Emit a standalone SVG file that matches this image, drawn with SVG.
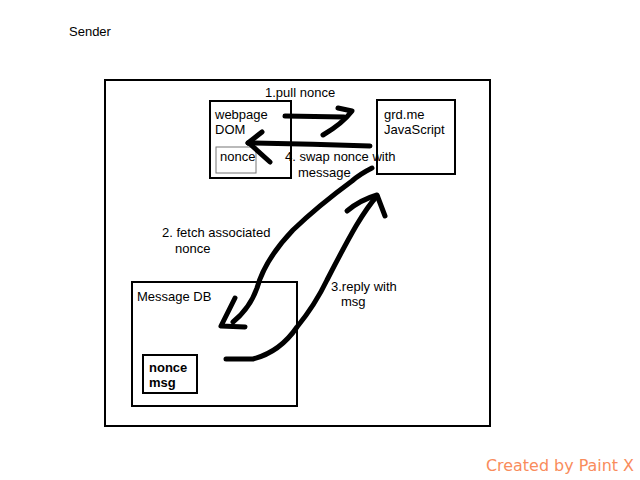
<svg xmlns="http://www.w3.org/2000/svg" width="640" height="480" viewBox="0 0 640 480">
<style>
text{font-family:"Liberation Sans",Arial,sans-serif;font-size:13px;fill:#000}
.box{fill:none;stroke:#000;stroke-width:2}
.ink{fill:none;stroke:#000;stroke-width:5;stroke-linecap:round;stroke-linejoin:round}
.b{font-weight:bold}
</style>
<rect width="640" height="480" fill="#fff"/>
<text x="69" y="36">Sender</text>
<rect class="box" x="105" y="80" width="385" height="346"/>
<g id="webpage">
<rect class="box" x="210" y="101" width="81" height="77"/>
<text x="215" y="119">webpage</text>
<text x="215" y="134">DOM</text>
<rect x="216" y="147" width="40" height="26" fill="none" stroke="#777" stroke-width="1"/>
<text x="220" y="161">nonce</text>
</g>
<g id="grdme">
<rect class="box" x="377" y="100" width="78" height="74"/>
<text x="384" y="119">grd.me</text>
<text x="384" y="134">JavaScript</text>
</g>
<g id="messagedb">
<rect class="box" x="132" y="282" width="165" height="124"/>
<text x="137" y="301">Message DB</text>
<rect class="box" x="143" y="355" width="54" height="38"/>
<text class="b" x="149" y="372">nonce</text>
<text class="b" x="149" y="387">msg</text>
</g>
<g id="connectors">
<path class="ink" d="M285 116 L344 117"/>
<path class="ink" d="M338 108 L352 111 Q342 124 323 135"/>
<path class="ink" d="M370 146 Q310 144 248 143"/>
<path class="ink" d="M248 143 L262 132"/>
<path class="ink" d="M249 143 L270 162"/>
<path class="ink" d="M372 168 Q360 174 352 181 Q318 206 293 230 C272 252 262 270 257 288 Q250 308 233 322"/>
<path class="ink" d="M235 298 L221 326 L245 327"/>
<path class="ink" d="M226 359 L253 359 Q280 352 297 327 Q315 305 327 280 Q345 245 356 226 Q368 206 377 196"/>
<path class="ink" d="M347 211 Q360 200 377 195 L385 216"/>
</g>
<text x="265" y="97">1.pull nonce</text>
<text x="285" y="161">4. swap nonce with</text>
<text x="298" y="177">message</text>
<text x="162" y="237">2. fetch associated</text>
<text x="175" y="253">nonce</text>
<text x="331" y="291">3.reply with</text>
<text x="341" y="306">msg</text>
<text x="486" y="471" style="font-family:'DejaVu Sans',Verdana,sans-serif;font-size:15px;fill:#f98c5c" textLength="148" lengthAdjust="spacingAndGlyphs">Created by Paint X</text>
</svg>
